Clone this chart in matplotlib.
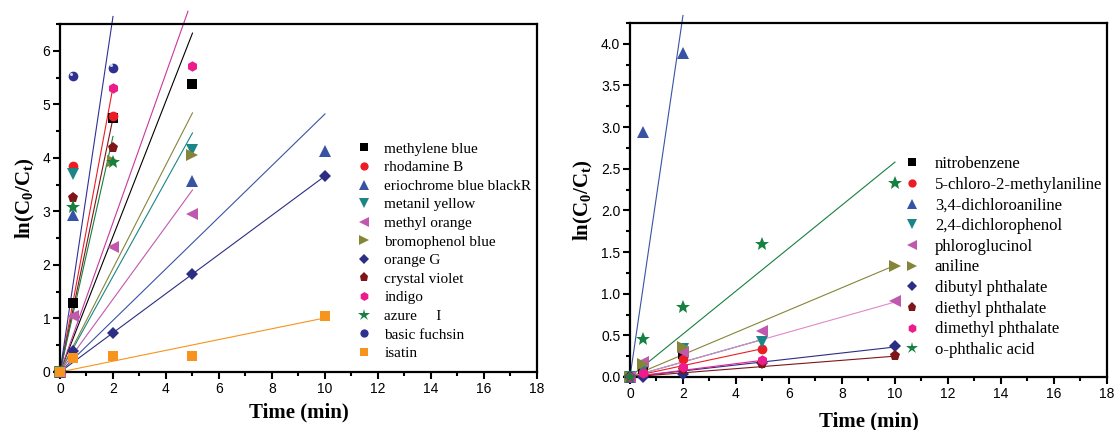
import matplotlib
matplotlib.use('Agg')
import matplotlib.pyplot as plt
from matplotlib.ticker import MultipleLocator

plt.rcParams['mathtext.fontset'] = 'custom'
plt.rcParams['mathtext.rm'] = 'Liberation Serif'
plt.rcParams['mathtext.bf'] = 'Liberation Serif:bold'
plt.rcParams['mathtext.it'] = 'Liberation Serif:italic'

SERIF = 'Liberation Serif'
SANS = 'Liberation Sans'

# marker sizes so every symbol looks about the same on screen
MS = {'s': 6.5, 'o': 7, '^': 8.5, 'v': 8.5, '<': 8.5, '>': 8.5,
      'D': 6, 'p': 8, 'h': 7.5, '*': 10.5}

# ── Left panel: dyes ─────────────────────────────────
dye_names = ['methylene blue', 'rhodamine B', 'eriochrome blue blackR',
             'metanil yellow', 'methyl orange', 'bromophenol blue',
             'orange G', 'crystal violet', 'indigo', 'azure     I',
             'basic fuchsin', 'isatin']
dye_markers = ['s', 'o', '^', 'v', '<', '>', 'D', 'p', 'h', '*', 'o', 's']
dye_colors = ['#000000', '#ED1C24', '#3953A4', '#1B8685', '#C059AE',
              '#85853A', '#2B2E83', '#7E1518', '#EC1C8C', '#168040',
              '#2E3192', '#F7941D']
dye_line_colors = ['#000000', '#ED1C24', '#3953A4', '#1B8685', '#C059AE',
                   '#85853A', '#2B2E83', '#7E1518', '#C8379E', '#168040',
                   '#2E3192', '#F7941D']
dye_times = [
    [0, 0.5, 2, 5],
    [0, 0.5, 2],
    [0, 0.5, 5, 10],
    [0, 0.5, 5],
    [0, 0.5, 2, 5],
    [0, 2, 5],
    [0, 0.5, 2, 5, 10],
    [0, 0.5, 2],
    [0, 2, 5],
    [0, 0.5, 2],
    [0, 0.5, 2],
    [0, 0.5, 2, 5, 10],
]
dye_values = [
    [0, 1.28, 4.74, 5.37],
    [0, 3.85, 4.79],
    [0, 2.93, 3.56, 4.12],
    [0, 3.69, 4.14],
    [0, 1.05, 2.33, 2.96],
    [0, 3.95, 4.05],
    [0, 0.40, 0.73, 1.83, 3.66],
    [0, 3.25, 4.19],
    [0, 5.31, 5.72],
    [0, 3.08, 3.92],
    [0, 5.52, 5.68],
    [0, 0.27, 0.30, 0.30, 1.04],
]
# fitted first-order slopes (through origin) and fit end time
dye_slopes = [1.266, 2.66, 0.482, 0.893, 0.68, 0.968, 0.366, 2.37, 1.395,
              2.2, 3.32, 0.101]
dye_fit_end = [5, 2, 10, 5, 5, 5, 10, 2, 4.83, 2, 2, 10]

# ── Right panel: organic compounds ───────────────────
org_names = ['nitrobenzene', '5-chloro-2-methylaniline', '3,4-dichloroaniline',
             '2,4-dichlorophenol', 'phloroglucinol', 'aniline',
             'dibutyl phthalate', 'diethyl phthalate', 'dimethyl phthalate',
             'o-phthalic acid']
org_markers = ['s', 'o', '^', 'v', '<', '>', 'D', 'p', 'h', '*']
org_colors = ['#000000', '#ED1C24', '#3953A4', '#1B8685', '#C059AE',
              '#85853A', '#2B2E83', '#7E1518', '#EC1C8C', '#168040']
org_line_colors = ['#000000', '#ED1C24', '#3953A4', '#1B8685', '#E08AC8',
                   '#85853A', '#2B2E83', '#7E1518', '#EC1C8C', '#168040']
org_times = [
    [0, 0.5, 2],
    [0, 0.5, 2, 5],
    [0, 0.5, 2],
    [0, 0.5, 2, 5],
    [0, 0.5, 2, 5, 10],
    [0, 0.5, 2, 10],
    [0, 0.5, 2, 5, 10],
    [0, 2, 5, 10],
    [0, 0.5, 2, 5],
    [0, 0.5, 2, 5, 10],
]
org_values = [
    [0, 0.10, 0.27],
    [0, 0.06, 0.22, 0.34],
    [0, 2.94, 3.89],
    [0, 0.10, 0.33, 0.42],
    [0, 0.18, 0.30, 0.55, 0.91],
    [0, 0.15, 0.36, 1.33],
    [0, 0.00, 0.03, 0.17, 0.37],
    [0, 0.08, 0.15, 0.25],
    [0, 0.05, 0.12, 0.20],
    [0, 0.46, 0.845, 1.60, 2.33],
]
org_slopes = [None, 0.068, 2.17, 0.09, 0.09, 0.134, 0.036, 0.025, 0.04, 0.258]
org_fit_end = [None, 5, 2, 5, 10, 10, 10, 10, 5, 10]


def style_axes(ax, ymax, ymajor, yminor, yfmt, xpad):
    ax.set_xlim(0, 18)
    ax.set_ylim(0, ymax)
    ax.xaxis.set_major_locator(MultipleLocator(2))
    ax.xaxis.set_minor_locator(MultipleLocator(1))
    ax.yaxis.set_major_locator(MultipleLocator(ymajor))
    ax.yaxis.set_minor_locator(MultipleLocator(yminor))
    ax.yaxis.set_major_formatter(yfmt)
    for s in ax.spines.values():
        s.set_linewidth(1.6)
    ax.tick_params(which='major', direction='out', length=5, width=1.5,
                   labelsize=10, pad=2)
    ax.tick_params(which='minor', direction='out', length=3, width=1.5)
    for lab in ax.get_xticklabels() + ax.get_yticklabels():
        lab.set_fontfamily(SANS)
    ax.set_xlabel('Time (min)', fontsize=15, fontweight='bold',
                  fontfamily=SERIF, labelpad=xpad)
    ax.set_ylabel(r'$\mathbf{ln(C_0/C_t)}$', fontsize=15, labelpad=4)


def draw_panel(ax, times, values, slopes, ends, markers, colors, line_colors):
    for i in range(len(times)):
        if slopes[i] is not None:
            ax.plot([0, ends[i]], [0, slopes[i] * ends[i]], color=line_colors[i],
                    lw=0.8, clip_on=False, zorder=2)
    for i in range(len(times)):
        ax.plot(times[i], values[i], linestyle='none', marker=markers[i],
                color=colors[i], ms=MS[markers[i]], mew=0, clip_on=False,
                zorder=3)


fig = plt.figure(figsize=(11.15, 4.3), dpi=100)
ax1 = fig.add_axes([0.0538, 0.1349, 0.4278, 0.8093])
ax2 = fig.add_axes([0.565, 0.1233, 0.4278, 0.8232])

draw_panel(ax1, dye_times, dye_values, dye_slopes, dye_fit_end,
           dye_markers, dye_colors, dye_line_colors)
# highlight on the basic fuchsin spheres
ax1.plot([t - 0.08 for t in dye_times[10][1:]],
         [v + 0.05 for v in dye_values[10][1:]], linestyle='none',
         marker='o', color='white', ms=2.2, mew=0, zorder=4, alpha=0.8)
style_axes(ax1, 6.5, 1, 0.5, '{x:.0f}', 5)

draw_panel(ax2, org_times, org_values, org_slopes, org_fit_end,
           org_markers, org_colors, org_line_colors)
style_axes(ax2, 4.25, 0.5, 0.25, '{x:.1f}', 8)


# legends (markers only)
def add_legend(ax, names, markers, colors, fontsize, anchor, spacing, pad):
    handles = []
    for n, m, c in zip(names, markers, colors):
        h, = ax.plot([], [], linestyle='none', marker=m, color=c,
                     ms=MS[m] * 0.85, mew=0, label=n)
        handles.append(h)
    ax.legend(handles=handles, loc='upper left', bbox_to_anchor=anchor,
              bbox_transform=fig.transFigure, frameon=False, borderpad=0,
              borderaxespad=0, handlelength=1.0, handletextpad=pad,
              labelspacing=spacing, prop={'family': SERIF, 'size': fontsize})


add_legend(ax1, dye_names, dye_markers, dye_colors, 11,
           (356 / 1115, 1 - 142 / 430), 0.32, 0.85)
add_legend(ax2, org_names, org_markers, org_colors, 12,
           (904 / 1115, 1 - 156 / 430), 0.28, 0.85)

fig.savefig('out.png', dpi=100)
